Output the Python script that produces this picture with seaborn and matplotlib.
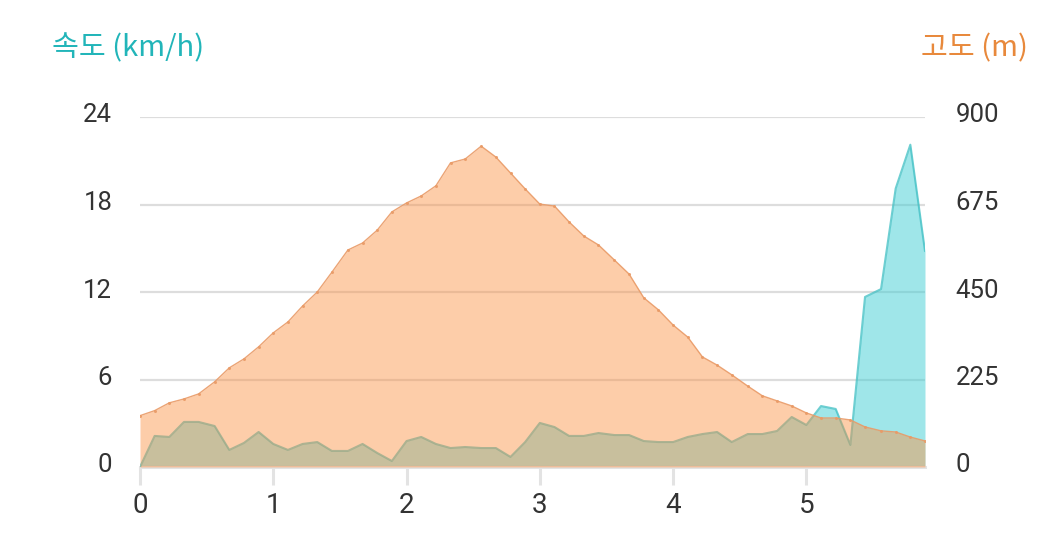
import numpy as np
import pandas as pd
import seaborn as sns
import matplotlib.pyplot as plt
import matplotlib.transforms as mtransforms

# distance (km) along the route
distance = [0.0, 0.11, 0.22, 0.33, 0.44, 0.56, 0.67, 0.78, 0.89, 1.0,
            1.11, 1.22, 1.33, 1.44, 1.56, 1.67, 1.78, 1.89, 2.0, 2.11,
            2.22, 2.33, 2.44, 2.56, 2.67, 2.78, 2.89, 3.0, 3.11, 3.22,
            3.33, 3.44, 3.56, 3.67, 3.78, 3.89, 4.0, 4.11, 4.22, 4.33,
            4.44, 4.56, 4.67, 4.78, 4.89, 5.0, 5.11, 5.22, 5.33, 5.44,
            5.56, 5.67, 5.78, 5.89]

# speed (km/h)
speed = [0.0, 2.13, 2.06, 3.09, 3.09, 2.81, 1.17, 1.65, 2.40, 1.58,
         1.17, 1.58, 1.71, 1.10, 1.10, 1.58, 0.96, 0.41, 1.78, 2.06,
         1.58, 1.30, 1.37, 1.30, 1.30, 0.69, 1.71, 3.02, 2.74, 2.13,
         2.13, 2.33, 2.19, 2.19, 1.78, 1.71, 1.71, 2.06, 2.26, 2.40,
         1.71, 2.26, 2.26, 2.47, 3.43, 2.88, 4.18, 3.98, 1.51, 11.66,
         12.2, 19.1, 22.1, 14.8]

# elevation (m)
elevation = [132, 145, 165, 175, 188, 219, 255, 278, 309, 345,
             373, 414, 450, 501, 558, 576, 609, 656, 679, 697,
             723, 782, 792, 825, 797, 756, 715, 676, 671, 630,
             594, 571, 532, 496, 435, 404, 365, 334, 283, 262,
             237, 208, 183, 170, 157, 139, 126, 126, 121, 103,
             93, 90, 77, 67]

speed_ticks = [0, 6, 12, 18, 24]
elev_ticks = [0, 225, 450, 675, 900]
dist_ticks = [0, 1, 2, 3, 4, 5]

df = pd.DataFrame({'distance': distance, 'speed': speed, 'elevation': elevation})

sns.set_theme(style='white')
plt.rcParams['font.family'] = ['Roboto', 'DejaVu Sans']

TEAL = '#22b5b9'
ORANGE = '#e8893c'
TEXT = '#333333'
GRID = '#dddddd'

fig = plt.figure(figsize=(10.48, 5.36), dpi=100)
ax = fig.add_axes([140 / 1048, 1 - 467 / 536, 785 / 1048, 350 / 536])
ax2 = ax.twinx()

# speed (bottom layer)
ax.fill_between(df['distance'], df['speed'], color='#40cfd4', alpha=0.5, lw=0, zorder=2)
sns.lineplot(data=df, x='distance', y='speed', ax=ax, color='#3fbfc3',
             lw=1.5, alpha=0.75, zorder=3)

# elevation (top layer, translucent)
ax2.fill_between(df['distance'], df['elevation'], color='#fb9042', alpha=0.45, lw=0, zorder=2)
sns.lineplot(data=df, x='distance', y='elevation', ax=ax2, color='#e99a66',
             lw=1.0, alpha=0.9, marker='o', markersize=2.2, markeredgewidth=0,
             zorder=3)

ax.set_xlim(0, distance[-1])
ax.set_ylim(0, 24)
ax2.set_ylim(0, 900)
ax.set_xticks(dist_ticks)
ax.set_yticks(speed_ticks)
ax2.set_yticks(elev_ticks)
ax.set_xlabel('')
ax.set_ylabel('')
ax2.set_ylabel('')

ax.yaxis.grid(True, color=GRID, lw=1.6)
ax.xaxis.grid(False)
ax.set_axisbelow(True)

for a in (ax, ax2):
    for side in ('left', 'right', 'top', 'bottom'):
        a.spines[side].set_visible(False)
ax.spines['bottom'].set_visible(True)
ax.spines['bottom'].set_color('#e3e3e3')
ax.spines['bottom'].set_linewidth(2.2)

ax.tick_params(axis='x', length=13, width=2.2, color='#e3e3e3', pad=5,
               labelsize=20, labelcolor=TEXT, bottom=True)
ax.tick_params(axis='y', length=0, pad=20, labelsize=18.5, labelcolor=TEXT)
ax2.tick_params(axis='y', length=0, pad=22, labelsize=18.5, labelcolor=TEXT)

# lift y labels a few pixels above their gridlines
offset = mtransforms.ScaledTranslation(0, 4 / 100, fig.dpi_scale_trans)
for lab in ax.get_yticklabels() + ax2.get_yticklabels():
    lab.set_transform(lab.get_transform() + offset)

cjk = ['Noto Sans CJK KR', 'DejaVu Sans']
fig.text(52 / 1048, 1 - 48 / 536, '속도 (km/h)', color=TEAL, fontsize=21,
         ha='left', va='center', family=cjk)
fig.text(1028 / 1048, 1 - 48 / 536, '고도 (m)', color=ORANGE, fontsize=21,
         ha='right', va='center', family=cjk)

fig.savefig('out.png', dpi=100)
